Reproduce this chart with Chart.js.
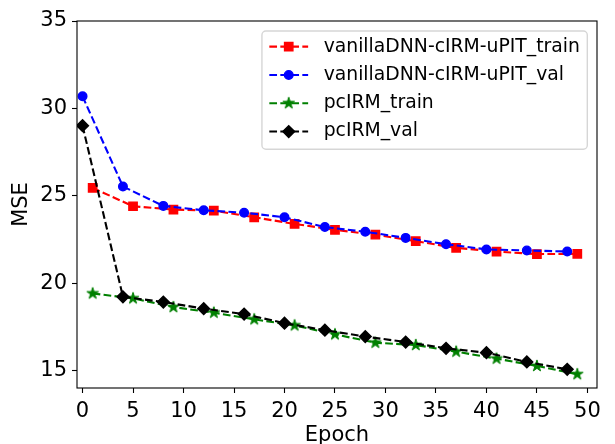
<!DOCTYPE html>
<html>
<head>
<meta charset="utf-8">
<script src="https://cdn.jsdelivr.net/npm/chart.js@4.4.0/dist/chart.umd.min.js"></script>
<style>
  html, body { margin: 0; padding: 0; background: #ffffff; }
  canvas { display: block; }
</style>
</head>
<body>
<canvas id="mse-chart" width="615" height="444"></canvas>
<script>
// epochs where each run was logged
const trainEpochs = [1, 5, 9, 13, 17, 21, 25, 29, 33, 37, 41, 45, 49];
const valEpochs = [0, 4, 8, 12, 16, 20, 24, 28, 32, 36, 40, 44, 48];

// MSE values
const vanillaTrain = [25.45, 24.40, 24.21, 24.15, 23.77, 23.39, 23.05, 22.77, 22.40, 22.02, 21.81, 21.66, 21.68];
const vanillaVal = [30.69, 25.53, 24.42, 24.17, 24.03, 23.77, 23.21, 22.94, 22.59, 22.23, 21.93, 21.87, 21.81];
const pcirmTrain = [19.41, 19.13, 18.63, 18.31, 17.93, 17.58, 17.07, 16.59, 16.46, 16.08, 15.68, 15.26, 14.79];
const pcirmVal = [29.01, 19.22, 18.92, 18.54, 18.23, 17.71, 17.31, 16.94, 16.63, 16.27, 16.02, 15.49, 15.07];

const seriesLabels = [
  "vanillaDNN-cIRM-uPIT_train",
  "vanillaDNN-cIRM-uPIT_val",
  "pcIRM_train",
  "pcIRM_val",
];

const xTickValues = [0, 5, 10, 15, 20, 25, 30, 35, 40, 45, 50];
const yTickValues = [15, 20, 25, 30, 35];

const FONT = "DejaVu Sans";
const AXIS_FONT_SIZE = 21;
const LEGEND_FONT_SIZE = 18.8;
const DASH = [7.7, 3.3];

function makeStar(color, radius) {
  const size = Math.ceil(radius * 2 + 3);
  const canvas = document.createElement("canvas");
  canvas.width = size;
  canvas.height = size;
  const g = canvas.getContext("2d");
  g.beginPath();
  for (let i = 0; i < 10; i++) {
    const r = i % 2 ? radius * 0.381966 : radius;
    const a = -Math.PI / 2 + (i * Math.PI) / 5;
    g.lineTo(size / 2 + r * Math.cos(a), size / 2 + r * Math.sin(a));
  }
  g.closePath();
  g.fillStyle = color;
  g.fill();
  g.strokeStyle = color;
  g.lineWidth = 1;
  g.stroke();
  return canvas;
}

function toPoints(xs, ys) {
  return xs.map((x, i) => ({ x, y: ys[i] }));
}

function lineSeries(label, xs, ys, color, pointStyle, radius, order) {
  return {
    label,
    data: toPoints(xs, ys),
    borderColor: color,
    backgroundColor: color,
    borderWidth: 2.1,
    borderDash: DASH,
    pointStyle,
    pointRadius: radius,
    pointHoverRadius: radius,
    pointBorderWidth: 1.4,
    pointBackgroundColor: color,
    pointBorderColor: color,
    tension: 0,
    fill: false,
    clip: 0,
    order,
  };
}

const datasets = [
  lineSeries(seriesLabels[0], trainEpochs, vanillaTrain, "#ff0000", "rect", 5.9, 4),
  lineSeries(seriesLabels[1], valEpochs, vanillaVal, "#0000ff", "circle", 4.3, 3),
  lineSeries(seriesLabels[2], trainEpochs, pcirmTrain, "#008000", makeStar("#008000", 6.1), 6, 2),
  lineSeries(seriesLabels[3], valEpochs, pcirmVal, "#000000", "rectRot", 5.9, 1),
];

const framePlugin = {
  id: "frame",
  afterDatasetsDraw(chart) {
    const { ctx, chartArea } = chart;
    ctx.save();
    ctx.strokeStyle = "#000000";
    ctx.lineWidth = 1.1;
    ctx.strokeRect(chartArea.left, chartArea.top,
      chartArea.right - chartArea.left, chartArea.bottom - chartArea.top);
    ctx.restore();
  },
};

const boxLegendPlugin = {
  id: "boxLegend",
  afterDraw(chart) {
    const { ctx, chartArea } = chart;
    const items = chart.data.datasets;
    const pad = 7.4;
    const handle = 38.8;
    const gap = 15.5;
    const row = 28.3;

    ctx.save();
    ctx.font = `${LEGEND_FONT_SIZE}px "${FONT}"`;
    const textWidth = Math.max(...items.map((d) => ctx.measureText(d.label).width));
    const width = pad + handle + gap + textWidth + pad;
    const height = row * items.length + 5;
    const right = chartArea.right - 9.7;
    const top = chartArea.top + 10;
    const left = right - width;

    ctx.beginPath();
    ctx.roundRect(left, top, width, height, 4);
    ctx.fillStyle = "rgba(255,255,255,0.8)";
    ctx.fill();
    ctx.lineWidth = 1.4;
    ctx.strokeStyle = "rgba(204,204,204,0.8)";
    ctx.stroke();

    items.forEach((d, i) => {
      const cy = top + row / 2 + 1.5 + i * row;
      const x0 = left + pad;
      ctx.save();
      ctx.setLineDash(DASH);
      ctx.lineWidth = d.borderWidth;
      ctx.strokeStyle = d.borderColor;
      ctx.beginPath();
      ctx.moveTo(x0, cy);
      ctx.lineTo(x0 + handle, cy);
      ctx.stroke();
      ctx.setLineDash([]);
      ctx.fillStyle = d.pointBackgroundColor;
      ctx.strokeStyle = d.pointBorderColor;
      ctx.lineWidth = d.pointBorderWidth;
      Chart.helpers.drawPoint(ctx, {
        pointStyle: d.pointStyle,
        radius: d.pointRadius,
        rotation: 0,
        borderWidth: d.pointBorderWidth,
      }, x0 + handle / 2, cy);
      ctx.restore();

      ctx.fillStyle = "#000000";
      ctx.textBaseline = "middle";
      ctx.textAlign = "left";
      ctx.fillText(d.label, x0 + handle + gap, cy);
    });
    ctx.restore();
  },
};

const tickFont = { family: FONT, size: AXIS_FONT_SIZE };
const tickGrid = {
  display: true,
  drawOnChartArea: false,
  drawTicks: true,
  tickLength: 5,
  tickWidth: 1.1,
  tickColor: "#000000",
};

new Chart(document.getElementById("mse-chart"), {
  type: "line",
  data: { datasets },
  options: {
    responsive: false,
    animation: false,
    devicePixelRatio: 1,
    layout: { padding: { left: 0, top: 21, right: 18, bottom: 0 } },
    plugins: {
      legend: { display: false },
      tooltip: { enabled: false },
    },
    scales: {
      x: {
        type: "linear",
        min: -0.55,
        max: 50.95,
        afterBuildTicks: (axis) => {
          axis.ticks = xTickValues.map((v) => ({ value: v }));
        },
        afterFit: (axis) => {
          axis.height = 56;
        },
        grid: tickGrid,
        border: { display: false },
        ticks: { font: tickFont, color: "#000000", padding: 6, maxRotation: 0, autoSkip: false },
        title: {
          display: true,
          text: "Epoch",
          color: "#000000",
          font: { family: FONT, size: AXIS_FONT_SIZE, lineHeight: 1 },
          padding: { top: 0, bottom: -2.5 },
        },
      },
      y: {
        type: "linear",
        min: 14,
        max: 35,
        afterBuildTicks: (axis) => {
          axis.ticks = yTickValues.map((v) => ({ value: v }));
        },
        afterFit: (axis) => {
          axis.width = 77;
        },
        grid: tickGrid,
        border: { display: false },
        ticks: { font: tickFont, color: "#000000", padding: 5, autoSkip: false },
        title: {
          display: true,
          text: "MSE",
          color: "#000000",
          font: { family: FONT, size: AXIS_FONT_SIZE, lineHeight: 1 },
          padding: { top: 11.4, bottom: 0 },
        },
      },
    },
  },
  plugins: [framePlugin, boxLegendPlugin],
});
</script>
</body>
</html>
